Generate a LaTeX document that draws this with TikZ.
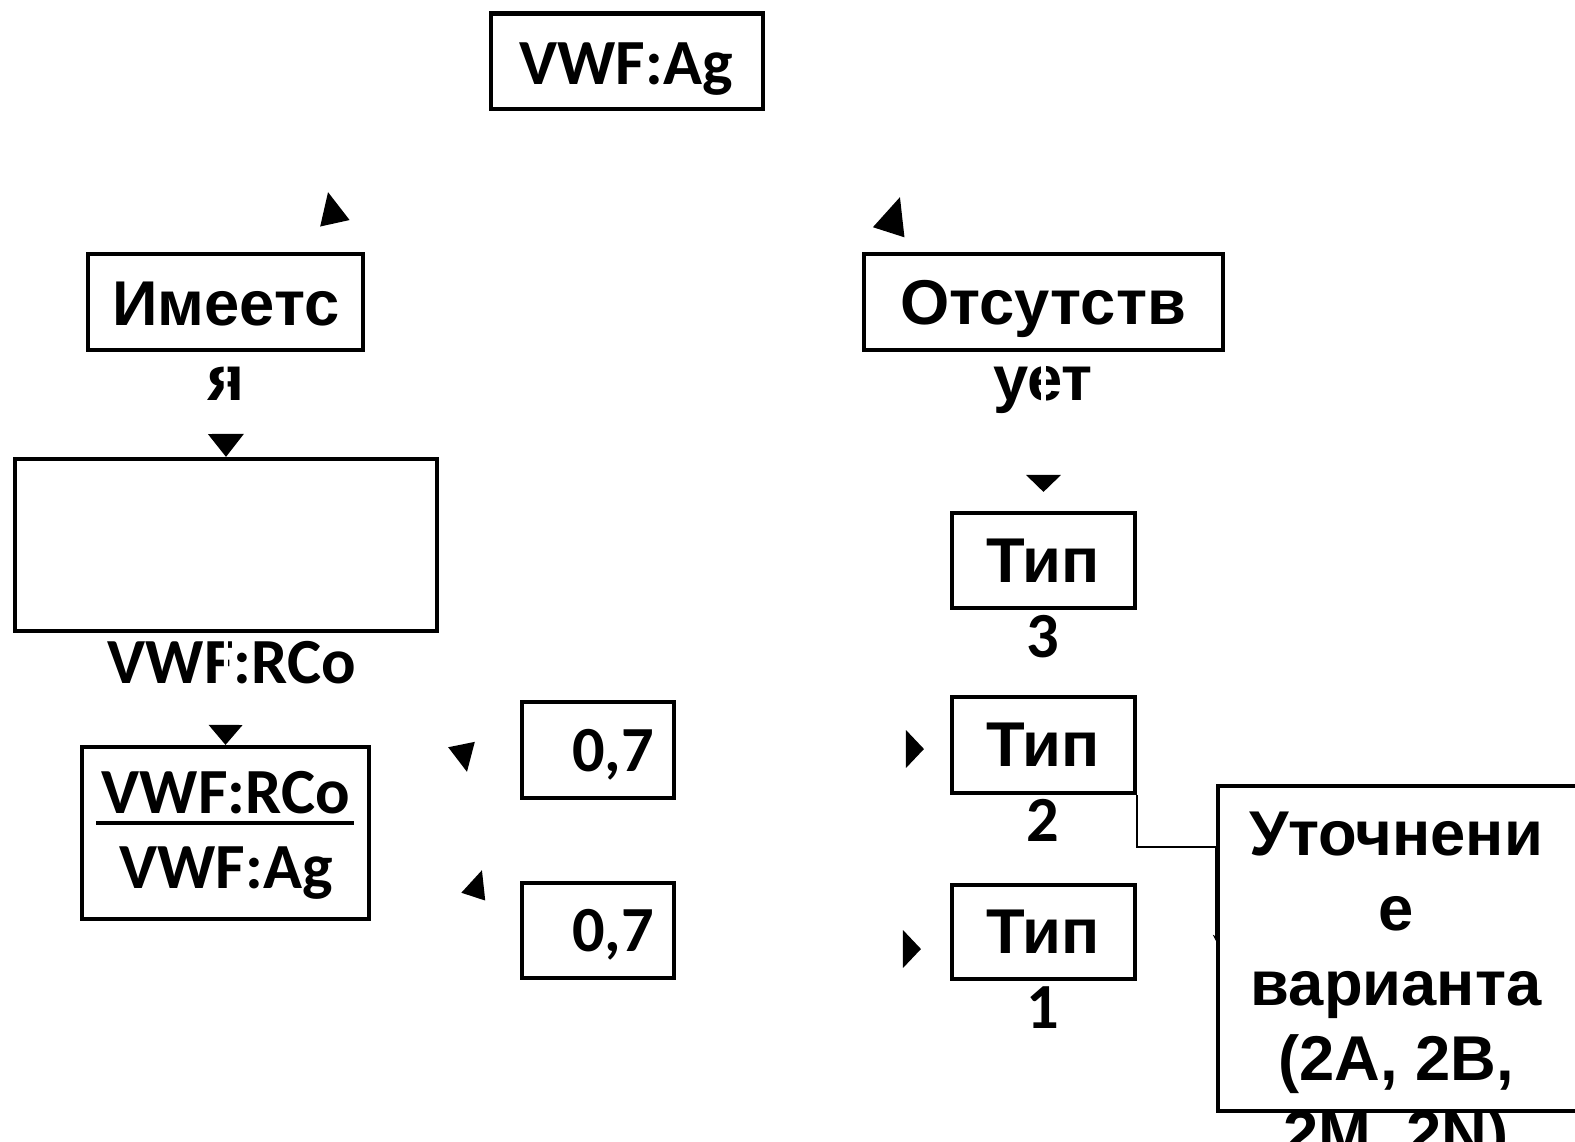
\documentclass[tikz,border=0pt]{standalone}
\usepackage{fontspec}
\setmainfont{Liberation Sans}
\newfontfamily\calfont{Carlito}
\usetikzlibrary{arrows.meta, positioning}

\begin{document}
\begin{tikzpicture}[x=0.01cm, y=-0.01cm,
	every node/.style = {inner sep=0pt},
	box/.style = {shape=rectangle, draw, line width=1.15pt},
	txt/.style = {anchor=base, font=\bfseries\fontsize{18}{21}\selectfont},
	ctxt/.style = {anchor=base, font=\calfont\bfseries\fontsize{18.3}{21}\selectfont},
	hidden/.style = {draw=white, line width=1.15pt},
	link/.style = {draw, line width=0.45pt, -{Stealth[length=1.8pt, width=1.8pt]}},
	]
\useasboundingbox (0,0) rectangle (1575,1141);
\clip (0,0) rectangle (1575,1141);
% boxes
\node[box, minimum width=2.72cm, minimum height=0.95cm] (ag) at (627,61) {};
\node[box, minimum width=2.75cm, minimum height=0.96cm] (im) at (225.5,302) {};
\node[box, minimum width=3.59cm, minimum height=0.96cm] (ot) at (1043.5,302) {};
\node[box, minimum width=4.22cm, minimum height=1.72cm] (big) at (226,545) {};
\node[box, minimum width=2.87cm, minimum height=1.72cm] (ra) at (225.5,833) {};
\node[box, minimum width=1.52cm, minimum height=0.96cm] (o1) at (598,750) {};
\node[box, minimum width=1.52cm, minimum height=0.95cm] (o2) at (598,930.5) {};
\node[box, minimum width=1.83cm, minimum height=0.95cm] (t3) at (1043.5,560.5) {};
\node[box, minimum width=1.83cm, minimum height=0.96cm] (t2) at (1043.5,745) {};
\node[box, minimum width=1.83cm, minimum height=0.94cm] (t1) at (1043.5,932) {};
\node[box, minimum width=3.60cm, minimum height=3.25cm] (ut) at (1398,948.5) {};
% texts, overflowing below their boxes
\node[ctxt] (agt) at (626,84) {VWF:Ag};
\node[txt] (im1) at (226,325) {Имеетс};
\node[txt] (im2) at (226,400) {я};
\node[txt] (ot1) at (1043,324) {Отсутств};
\node[txt] (ot2) at (1043,400) {ует};
\node[ctxt] (bgt) at (232,683) {VWF:RCo};
\node[ctxt] (ra1) at (226,813) {VWF:RCo};
\node[ctxt] (ra2) at (226,888) {VWF:Ag};
\draw[line width=0.9pt] ([xshift=-0.05cm, yshift=-0.1cm]ra1.base west) -- ([xshift=0.03cm, yshift=-0.1cm]ra1.base east);
\node[ctxt] (o1t) at (613,771) {0,7};
\node[ctxt] (o2t) at (613,951) {0,7};
\foreach \n/\y in {3/582, 2/766, 1/953} {
	\node[txt] (tt\n) at (1043,\y) {Тип};
	\node[ctxt] (td\n) at (1043,\y+75) {\n};
}
\foreach \s [count=\i] in {Уточнени, е, варианта, {(2A, 2B,}, {2M, 2N)}}
	\node[txt] (ut\i) at (1396,780+75*\i) {\s};
% tip coordinates
\coordinate (a0) at (341,251);
\coordinate (a1) at (328,192);
\coordinate (b0) at (883,250);
\coordinate (b1) at (900,197);
\coordinate (c1) at (467,772);
\coordinate (d0) at (464,925);
\coordinate (d1) at (482,870);
\coordinate (e2) at (924,749);
\coordinate (e1) at (921,949);
\coordinate (k1) at (1216,847);
\coordinate (k2) at (1216,941);
% connectors: white lines, black tips
\draw[hidden, -{Triangle[color=black, fill=black, length=0.32cm, width=0.29cm]}] (a0) -- (a1);
\draw[hidden, -{Triangle[color=black, fill=black, length=0.37cm, width=0.32cm]}] (b0) -- (b1);
\draw[hidden, -{Triangle[color=black, fill=black, length=0.23cm, width=0.35cm]}] (im.south) -- (big.north);
\draw[hidden, -{Triangle[color=black, fill=black, length=0.2cm, width=0.33cm]}] (big.south) -- (ra.north);
\draw[hidden, -{Triangle[color=black, fill=black, length=0.17cm, width=0.34cm]}] (ot.south) -- ([yshift=0.19cm]t3.north);
\draw[hidden, -{Triangle[color=black, fill=black, length=0.28cm, width=0.26cm]}] (big.south east) -- (c1);
\draw[hidden, -{Triangle[color=black, fill=black, length=0.28cm, width=0.24cm]}] (d0) -- (d1);
\draw[hidden, -{Triangle[color=black, fill=black, length=0.18cm, width=0.37cm]}] (o1.east |- e2) -- (e2);
\draw[hidden, -{Triangle[color=black, fill=black, length=0.18cm, width=0.37cm]}] (o2.east |- e1) -- (e1);
\draw[link] (t2.south east) |- (k1) -- (k2);
\end{tikzpicture}
\end{document}
